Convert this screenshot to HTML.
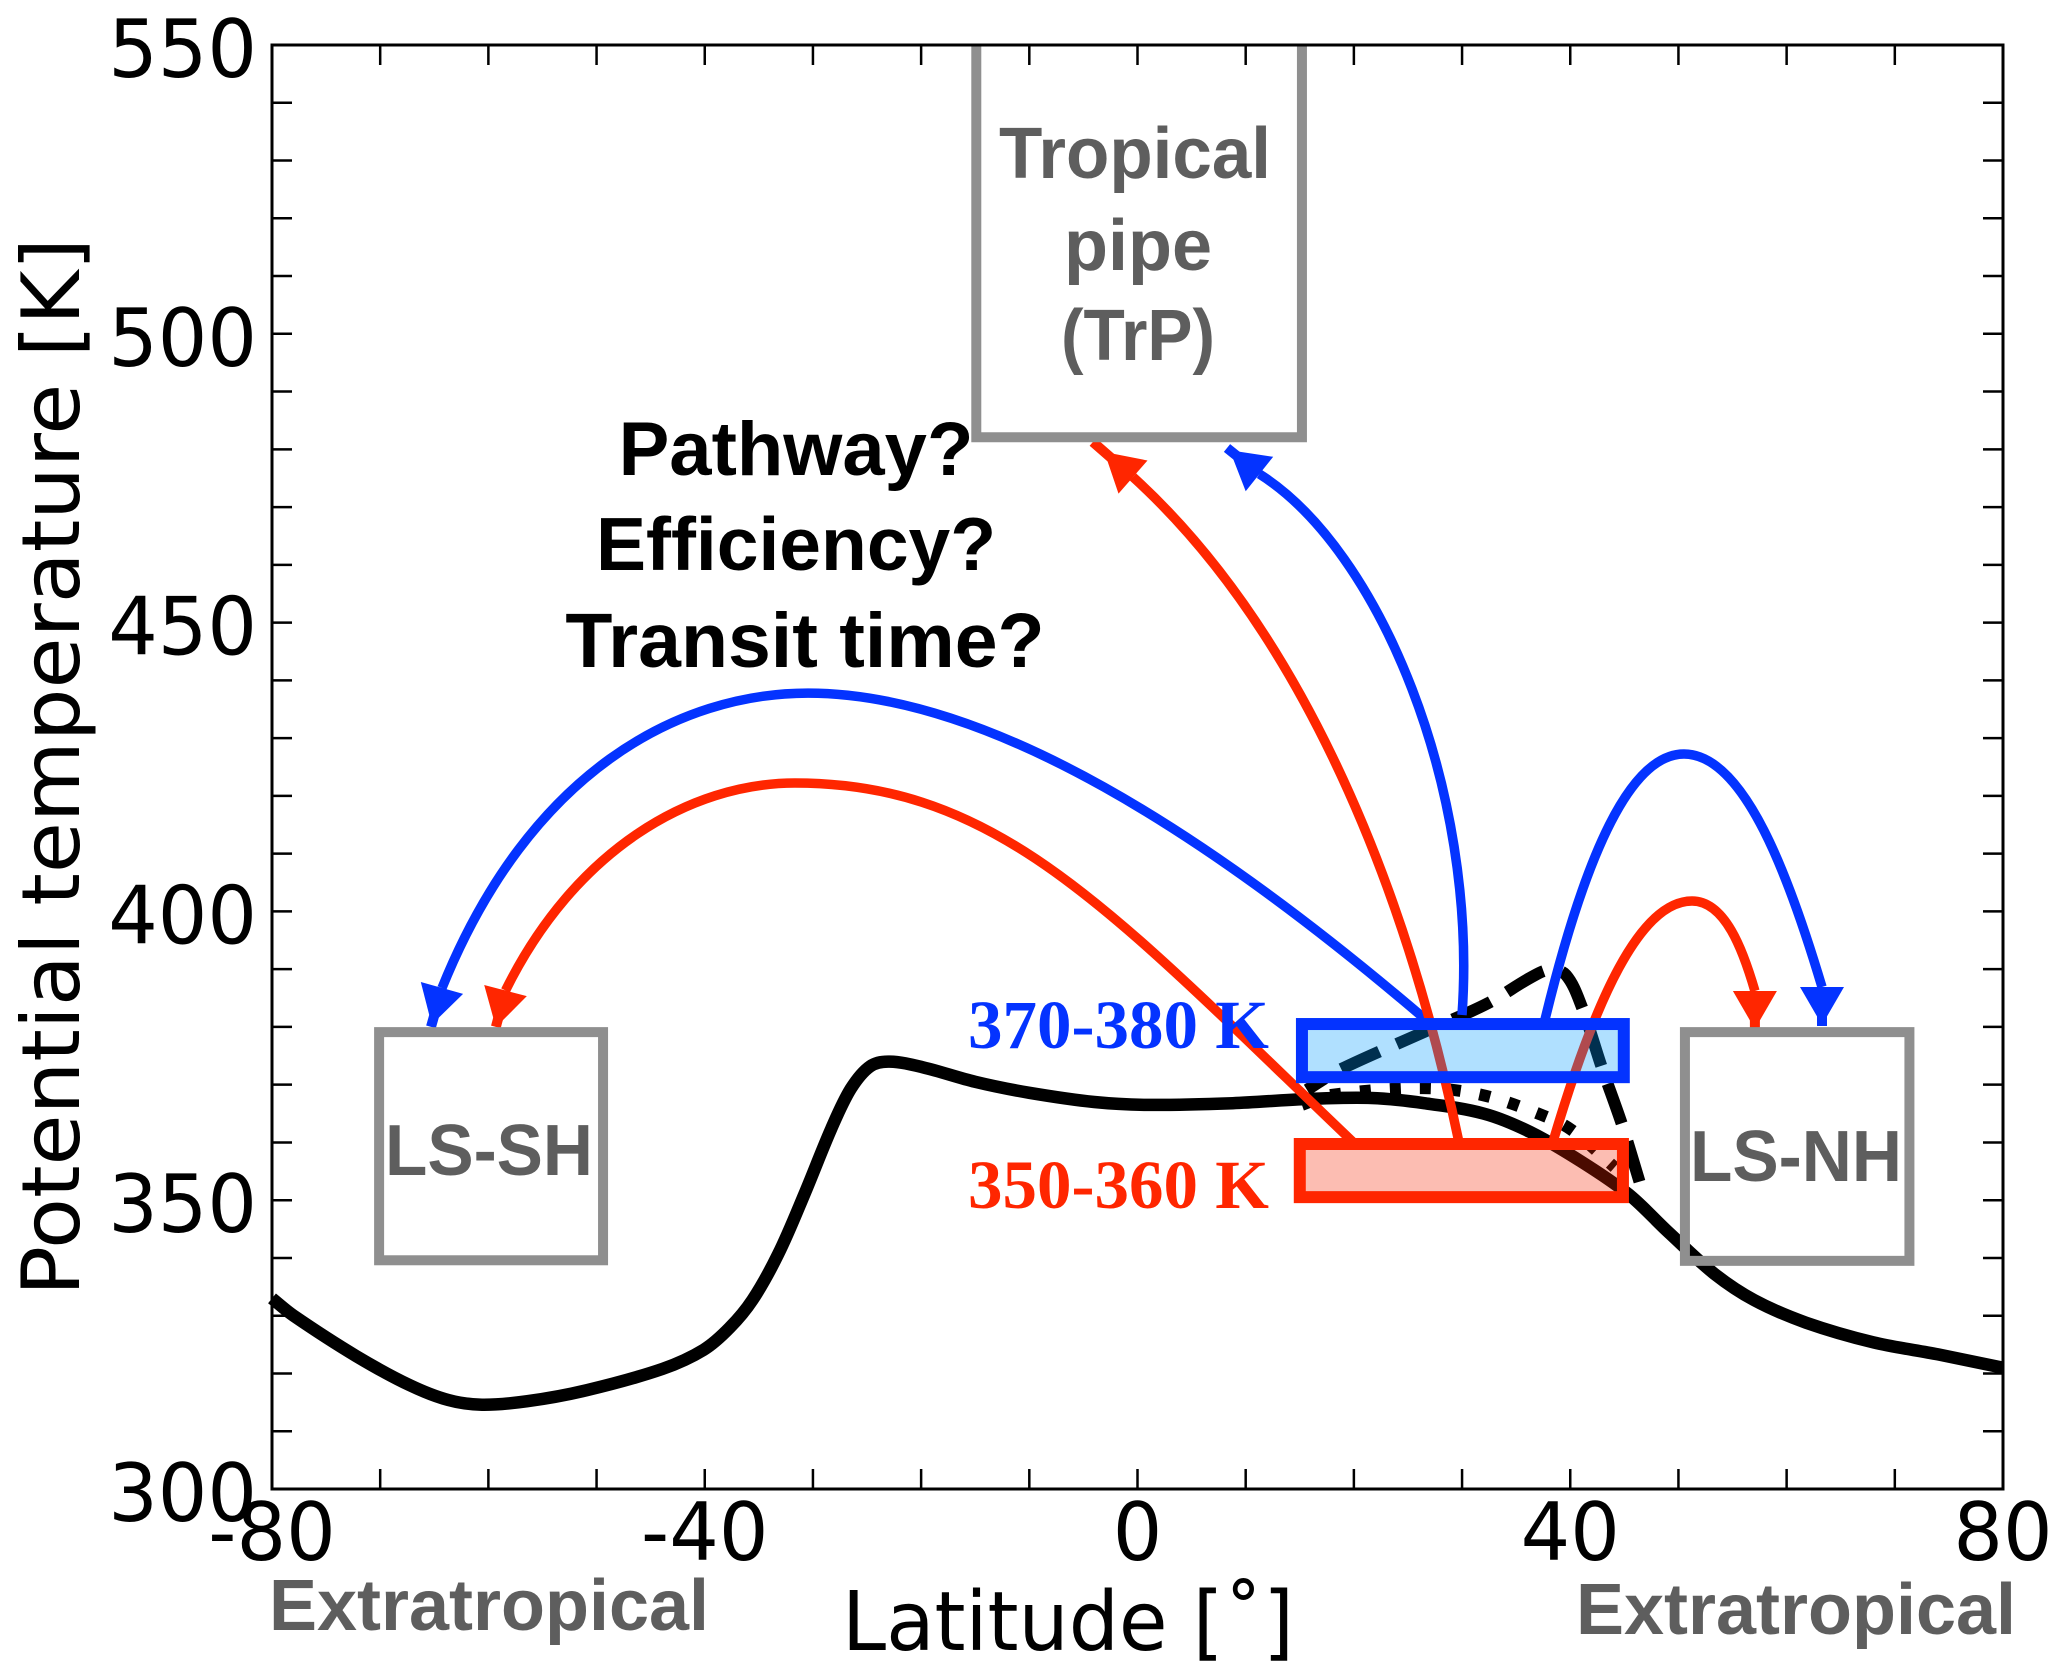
<!DOCTYPE html>
<html lang="en">
<head>
<meta charset="utf-8">
<title>Potential temperature vs latitude transport schematic</title>
<style>
html,body{margin:0;padding:0;background:#fff;}
svg{display:block;}
.tick{font-family:"DejaVu Sans",sans-serif;font-size:80px;fill:#000;}
.bold{font-family:"Liberation Sans",sans-serif;font-weight:700;}
.serif{font-family:"Liberation Serif",serif;font-weight:700;font-size:69px;}
</style>
</head>
<body>
<svg id="chart" xmlns="http://www.w3.org/2000/svg" width="2067" height="1680" viewBox="0 0 2067 1680">
  <rect width="2067" height="1680" fill="#fff"/>
  <g id="series"></g>
  <g id="arrows"></g>
  <g id="regions"></g>
  <g id="axes"></g>

  <text class="tick" transform="translate(79,767) rotate(-90)" text-anchor="middle" textLength="1058" lengthAdjust="spacingAndGlyphs">Potential temperature [K]</text>
  <text class="tick" style="font-size:82px" x="842" y="1650" textLength="452" lengthAdjust="spacingAndGlyphs">Latitude [˚]</text>

  <text class="bold" x="269" y="1630" font-size="72" fill="#5e5e5e" textLength="440" lengthAdjust="spacingAndGlyphs">Extratropical</text>
  <text class="bold" x="1576" y="1634" font-size="72" fill="#5e5e5e" textLength="440" lengthAdjust="spacingAndGlyphs">Extratropical</text>

  <text class="bold" x="1135" y="178" font-size="72" fill="#5e5e5e" text-anchor="middle" textLength="272" lengthAdjust="spacingAndGlyphs">Tropical</text>
  <text class="bold" x="1138" y="270" font-size="72" fill="#5e5e5e" text-anchor="middle" textLength="148" lengthAdjust="spacingAndGlyphs">pipe</text>
  <text class="bold" x="1138" y="360" font-size="72" fill="#5e5e5e" text-anchor="middle" textLength="154" lengthAdjust="spacingAndGlyphs">(TrP)</text>

  <text class="bold" x="489" y="1175" font-size="72" fill="#5e5e5e" text-anchor="middle" textLength="208" lengthAdjust="spacingAndGlyphs">LS-SH</text>
  <text class="bold" x="1796" y="1181" font-size="72" fill="#5e5e5e" text-anchor="middle" textLength="212" lengthAdjust="spacingAndGlyphs">LS-NH</text>

  <text class="bold" x="796" y="475" font-size="76" fill="#000" text-anchor="middle">Pathway?</text>
  <text class="bold" x="796" y="570" font-size="75" fill="#000" text-anchor="middle">Efficiency?</text>
  <text class="bold" x="805" y="667" font-size="77" fill="#000" text-anchor="middle">Transit time?</text>

  <text class="serif" x="968" y="1048" fill="#0433ff">370-380 K</text>
  <text class="serif" x="968" y="1208" fill="#ff2600">350-360 K</text>
</svg>
<script>
// ---- axis extents ----
const xDomain = [-80, 80];
const yDomain = [300, 550];
const xLabelTicks = [-80, -40, 0, 40, 80];
const yLabelTicks = [300, 350, 400, 450, 500, 550];
const xMinorStep = 10;
const yMinorStep = 10;

// ---- black series: latitude / potential temperature ----
const solidLat = [-80,-78,-72.2,-67.3,-63.7,-60.6,-56.4,-50.9,-43.9,-40.1,-37.7,-35.6,-33.2,-30.8,-28.3,-26.5,-24.7,-22.9,-19.8,-15,-10,-4,1,8.8,15.5,21.6,26.5,32,36.3,41,45.4,49,53.3,57,61.8,68,74,80];
const solidTheta = [333,330,323,318,315.4,314.6,315.2,317.1,320.8,324.1,327.9,332.7,340.7,351,362.4,369.3,373.2,374,373,370.5,368.6,367,366.5,366.8,367.5,367.7,366.8,365,361.8,356.7,351,344.6,337.3,332.7,328.8,325.4,323.3,321];
const dashedLat = [46.4,44.8,42.9,41.1,39.6,38.1,36.3,32.4,26.94,18.62,15.67];
const dashedTheta = [353.2,363,373.1,383.3,389,389.9,388.5,384.1,379.5,372.5,369.1];
const dottedLat = [15.2,17.8,26.4,31.9,37.3,40.1,44.1];
const dottedTheta = [366.5,368.2,369.4,368.2,364.8,362.2,355.7];

// ---- transport arrows: cubic control values (latitude / potential temperature), then arrow tip ----
const blueShLat = [26.57,6.7,-13.63,-30.46,-42.29,-56.15,-64.29];
const blueShTheta = [381.37,413.2,437.8,437.8,437.8,424.5,386.74];
const blueShTip = [-65.3, 380];
const redShLat = [19.92,-2.54,-12.71,-31.66,-41.36,-52,-58.42];
const redShTheta = [360.08,400.24,422.23,422.23,422.23,410.63,386.3];
const redShTip = [-59.3, 380];
const redTrpLat = [29.71,24.26,14.09,-0.42];
const redTrpTheta = [360.08,408.9,450.45,475.2];
const redTrpTip = [-4.12, 481.27];
const blueTrpLat = [29.99,31.47,22.41,11.27];
const blueTrpTheta = [382.06,421.02,462.57,475.73];
const blueTrpTip = [8.27, 480.23];
const blueNhLat = [37.66,41.36,45.52,50.51,56.15,60.31,63.27];
const blueNhTheta = [381.2,409.76,427.25,427.25,427.25,405.44,386.91];
const blueNhTip = [63.27, 380.16];
const redNhLat = [38.4,42.29,46.44,51.25,54.3,55.97,57.07];
const redNhTheta = [360.08,384.66,401.8,401.8,401.8,393.32,386.22];
const redNhTip = [57.07, 378.95];

// ---- region extents: [lat1, lat2, theta1, theta2] ----
const lsShBox = [-70.1, -49.4, 339.6, 379.1];
const lsNhBox = [50.6, 71.35, 339.5, 379.1];
const trpBox = [-14.9, 15.2, 482.1, 550];
const band370 = [15.2, 44.95, 371.3, 380.5];
const band350 = [15.0, 44.87, 350.53, 359.73];

// ---- axis functions ----
const PLOT = {l: 272, r: 2003, t: 45, b: 1489};
function xScale(v){ return PLOT.l + (v - xDomain[0]) / (xDomain[1] - xDomain[0]) * (PLOT.r - PLOT.l); }
function yScale(v){ return PLOT.b - (v - yDomain[0]) / (yDomain[1] - yDomain[0]) * (PLOT.b - PLOT.t); }

const NS = 'http://www.w3.org/2000/svg';
function mk(tag, parent, attrs){
  const el = document.createElementNS(NS, tag);
  for (const k in attrs) el.setAttribute(k, attrs[k]);
  parent.appendChild(el);
  return el;
}
function pts(lats, thetas){ return lats.map((la, i) => [xScale(la), yScale(thetas[i])]); }
function f(v){ return v.toFixed(1); }
// smooth path through points, tangent handles scaled to each segment length
function smooth(p){
  function tan(i){
    const a = p[Math.max(i - 1, 0)], c = p[Math.min(i + 1, p.length - 1)];
    const l = Math.hypot(c[0] - a[0], c[1] - a[1]) || 1;
    return [(c[0] - a[0]) / l, (c[1] - a[1]) / l];
  }
  let d = 'M' + f(p[0][0]) + ' ' + f(p[0][1]);
  for (let i = 0; i < p.length - 1; i++){
    const b = p[i], c = p[i + 1];
    const s = Math.hypot(c[0] - b[0], c[1] - b[1]) / 3;
    const t0 = tan(i), t1 = tan(i + 1);
    d += 'C' + f(b[0] + t0[0] * s) + ' ' + f(b[1] + t0[1] * s) + ' ' + f(c[0] - t1[0] * s) + ' ' + f(c[1] - t1[1] * s) + ' ' + f(c[0]) + ' ' + f(c[1]);
  }
  return d;
}

// ---- series ----
const seriesG = document.getElementById('series');
const solidLine = mk('path', seriesG, {d: smooth(pts(solidLat, solidTheta)), fill: 'none', stroke: '#000', 'stroke-width': 12.5, 'stroke-linejoin': 'round'});


const dashedLine = mk('path', seriesG, {d: smooth(pts(dashedLat, dashedTheta)), fill: 'none', stroke: '#000', 'stroke-width': 12, 'stroke-dasharray': '42 19'});


const dottedLine = mk('path', seriesG, {d: smooth(pts(dottedLat, dottedTheta)), fill: 'none', stroke: '#000', 'stroke-width': 12, 'stroke-dasharray': '11 19'});



// ---- arrows ----
const arrowsG = document.getElementById('arrows');
function drawArrow(lats, thetas, tipData, color, name){
  const p = pts(lats, thetas);
  const base = p[p.length - 1];
  const tip = [xScale(tipData[0]), yScale(tipData[1])];
  const len = Math.hypot(tip[0] - base[0], tip[1] - base[1]);
  const ux = (tip[0] - base[0]) / len, uy = (tip[1] - base[1]) / len;
  const headL = 38, headW = 22;
  let d = 'M' + f(p[0][0]) + ' ' + f(p[0][1]);
  for (let i = 1; i + 2 < p.length; i += 3){
    d += 'C' + [p[i], p[i + 1], p[i + 2]].map(q => f(q[0]) + ' ' + f(q[1])).join(' ');
  }
  const g = mk('g', arrowsG, {});
  
  
  mk('path', g, {d: d, fill: 'none', stroke: color, 'stroke-width': 9.5});
  mk('line', g, {x1: f(base[0]), y1: f(base[1]), x2: f(tip[0]), y2: f(tip[1]), stroke: color, 'stroke-width': 10});
  const hx = base[0] + ux * headL, hy = base[1] + uy * headL;
  mk('polygon', g, {points: [hx, hy, base[0] - uy * headW, base[1] + ux * headW, base[0] + uy * headW, base[1] - ux * headW].map(f).join(' '), fill: color});
}
const BLUE = '#0433ff', RED = '#ff2600', GRAY = '#8f8f8f';
drawArrow(blueShLat, blueShTheta, blueShTip, BLUE, 'arrow-370-to-ls-sh');
drawArrow(redShLat, redShTheta, redShTip, RED, 'arrow-350-to-ls-sh');
drawArrow(redTrpLat, redTrpTheta, redTrpTip, RED, 'arrow-350-to-tropical-pipe');
drawArrow(blueTrpLat, blueTrpTheta, blueTrpTip, BLUE, 'arrow-370-to-tropical-pipe');
drawArrow(blueNhLat, blueNhTheta, blueNhTip, BLUE, 'arrow-370-to-ls-nh');
drawArrow(redNhLat, redNhTheta, redNhTip, RED, 'arrow-350-to-ls-nh');

// ---- region boxes ----
const regionsG = document.getElementById('regions');
function box(b, stroke, sw, fill){
  const x = xScale(b[0]), w = xScale(b[1]) - x, y = yScale(b[3]), h = yScale(b[2]) - y;
  return mk('rect', regionsG, {x: x, y: y, width: w, height: h, fill: fill, stroke: stroke, 'stroke-width': sw});
}
const lsShRect = box(lsShBox, GRAY, 10, 'none');


const lsNhRect = box(lsNhBox, GRAY, 10, 'none');


const trpPath = mk('path', regionsG, {
  d: 'M' + xScale(trpBox[0]) + ' ' + yScale(trpBox[3]) + 'V' + yScale(trpBox[2]) + 'H' + xScale(trpBox[1]) + 'V' + yScale(trpBox[3]),
  fill: 'none', stroke: GRAY, 'stroke-width': 10
});


const rect370 = box(band370, BLUE, 12, 'rgba(0,155,255,0.31)');


const rect350 = box(band350, RED, 12, 'rgba(245,35,0,0.3)');



// ---- axes ----
const axesG = document.getElementById('axes');
const frame = mk('rect', axesG, {x: PLOT.l, y: PLOT.t, width: PLOT.r - PLOT.l, height: PLOT.b - PLOT.t, fill: 'none', stroke: '#000', 'stroke-width': 3});


const TICK = 20;
for (let v = xDomain[0] + xMinorStep; v < xDomain[1]; v += xMinorStep){
  const tx = xScale(v);
  const t1 = mk('line', axesG, {x1: tx, x2: tx, y1: PLOT.b, y2: PLOT.b - TICK, stroke: '#000', 'stroke-width': 2.5});
  
  
  const t2 = mk('line', axesG, {x1: tx, x2: tx, y1: PLOT.t, y2: PLOT.t + TICK, stroke: '#000', 'stroke-width': 2.5});
  
  
}
for (let v = yDomain[0] + yMinorStep; v < yDomain[1]; v += yMinorStep){
  const ty = yScale(v);
  const t1 = mk('line', axesG, {x1: PLOT.l, x2: PLOT.l + TICK, y1: ty, y2: ty, stroke: '#000', 'stroke-width': 2.5});
  
  
  const t2 = mk('line', axesG, {x1: PLOT.r, x2: PLOT.r - TICK, y1: ty, y2: ty, stroke: '#000', 'stroke-width': 2.5});
  
  
}
function labelWidth(v){
  const s = String(v);
  let w = 0;
  for (const ch of s) w += (ch === '-' ? 0.361 : 0.636) * 78;
  return w.toFixed(1);
}
xLabelTicks.forEach(v => {
  const t = mk('text', axesG, {x: xScale(v), y: 1560, class: 'tick', 'text-anchor': 'middle', textLength: labelWidth(v), lengthAdjust: 'spacingAndGlyphs'});
  t.textContent = v;
  
  
});
yLabelTicks.forEach(v => {
  const t = mk('text', axesG, {x: 257, y: yScale(v) + 32, class: 'tick', 'text-anchor': 'end', textLength: labelWidth(v), lengthAdjust: 'spacingAndGlyphs'});
  t.textContent = v;
  
  
});
</script>
</body>
</html>
